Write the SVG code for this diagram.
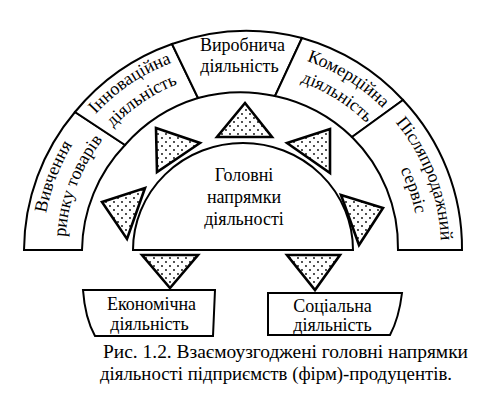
<svg xmlns="http://www.w3.org/2000/svg" width="481" height="404" viewBox="0 0 481 404" font-family="'Liberation Serif', 'DejaVu Serif', serif">
<style>
.ln{fill:#fff;stroke:#000;stroke-width:2;stroke-linejoin:miter}
.tri{fill:url(#dots);stroke:#000;stroke-width:2.6;stroke-linejoin:miter}
text{font-family:'Liberation Serif','DejaVu Serif',serif;fill:#000}
.bt{font-size:18px;text-anchor:middle}
.cap{font-size:18px}
</style>
<defs>
<pattern id="dots" width="8" height="8" patternUnits="userSpaceOnUse">
<rect width="8" height="8" fill="#fff"/>
<circle cx="2" cy="2" r="0.9" fill="#000"/>
<circle cx="6" cy="6" r="0.9" fill="#000"/>
</pattern>
<path id="a1o" d="M 87.3 374.3 A 199 199 0 0 1 210.9 52.5"/>
<path id="a1i" d="M 104.5 360.4 A 177 177 0 0 1 214.3 74.2"/>
<path id="a2o" d="M 43.5 262.9 A 199 199 0 0 1 329.2 70.1"/>
<path id="a2i" d="M 65.4 261.4 A 177 177 0 0 1 319.6 89.9"/>
<path id="a4o" d="M 148.6 73.3 A 199 199 0 0 1 440.9 255.9"/>
<path id="a4i" d="M 158.9 92.7 A 177 177 0 0 1 418.9 255.2"/>
<path id="a5o" d="M 273.1 52.5 A 199 199 0 0 1 396.7 374.3"/>
<path id="a5i" d="M 275.8 75.3 A 177 177 0 0 1 375.6 365.1"/>
</defs>
<rect width="481" height="404" fill="#fff"/>

<g id="market-research">
<path class="ln" d="M 24 250 A 219 217 0 0 1 75 112 L 125 145 A 158 156 0 0 0 82 250 Z"/>
<text class="bt"><textPath href="#a1o" startOffset="50%">Вивчення</textPath><textPath href="#a1i" startOffset="50%">ринку товарів</textPath></text>
</g>
<g id="innovation">
<path class="ln" d="M 75 112 A 219 217 0 0 1 172 44 L 198 98 A 158 156 0 0 0 125 145 Z"/>
<text class="bt"><textPath href="#a2o" startOffset="50%">Інноваційна</textPath><textPath href="#a2i" startOffset="50%">діяльність</textPath></text>
</g>
<g id="production">
<path class="ln" d="M 172 44 A 219 217 0 0 1 302 38 L 275 96 A 158 156 0 0 0 198 98 Z"/>
<text class="bt"><tspan x="242.5" y="51">Виробнича</tspan><tspan x="239.5" y="72">діяльність</tspan></text>
</g>
<g id="commerce">
<path class="ln" d="M 302 38 A 219 217 0 0 1 403 100 L 352 137 A 158 156 0 0 0 275 96 Z"/>
<text class="bt"><textPath href="#a4o" startOffset="50%">Комерційна</textPath><textPath href="#a4i" startOffset="50%">діяльність</textPath></text>
</g>
<g id="after-sales">
<path class="ln" d="M 403 100 A 219 217 0 0 1 462 250 L 398 250 A 158 156 0 0 0 352 137 Z"/>
<text class="bt"><textPath href="#a5o" startOffset="50%">Післяпродажний</textPath><textPath href="#a5i" startOffset="50%">сервіс</textPath></text>
</g>

<g id="main-directions">
<path class="ln" d="M 133 250 A 110 107 0 0 1 353 250 Z"/>
<text class="bt"><tspan x="244" y="181">Головні</tspan><tspan x="244" y="203">напрямки</tspan><tspan x="244" y="225">діяльності</tspan></text>
</g>

<g id="economic">
<path class="ln" d="M 83 290 L 215 290 L 213 336 L 95 336 Q 85 318 83 290 Z"/>
<text class="bt"><tspan x="151.5" y="310">Економічна</tspan><tspan x="149.5" y="330">діяльність</tspan></text>
</g>
<g id="social">
<path class="ln" d="M 268 293 L 402 293 Q 399 318 390 335 L 268 335 Z"/>
<text class="bt"><tspan x="332.5" y="312">Соціальна</tspan><tspan x="332.5" y="331">діяльність</tspan></text>
</g>

<g id="connectors">
<polygon class="tri" points="245,103 217,137 272,137"/>
<polygon class="tri" points="156,128 200,143 157,172"/>
<polygon class="tri" points="287,143 330,129 330,173"/>
<polygon class="tri" points="102,202 145,188 127,239"/>
<polygon class="tri" points="341,195 383,208 359,245"/>
<polygon class="tri" points="142,255 198,255 170,288"/>
<polygon class="tri" points="287,255 340,255 315,290"/>
</g>

<g id="caption">
<text class="cap" x="103" y="358" textLength="365" lengthAdjust="spacingAndGlyphs">Рис. 1.2. Взаємоузгоджені головні напрямки</text>
<text class="cap" x="100" y="380" textLength="352" lengthAdjust="spacingAndGlyphs">діяльності підприємств (фірм)-продуцентів.</text>
</g>
</svg>
